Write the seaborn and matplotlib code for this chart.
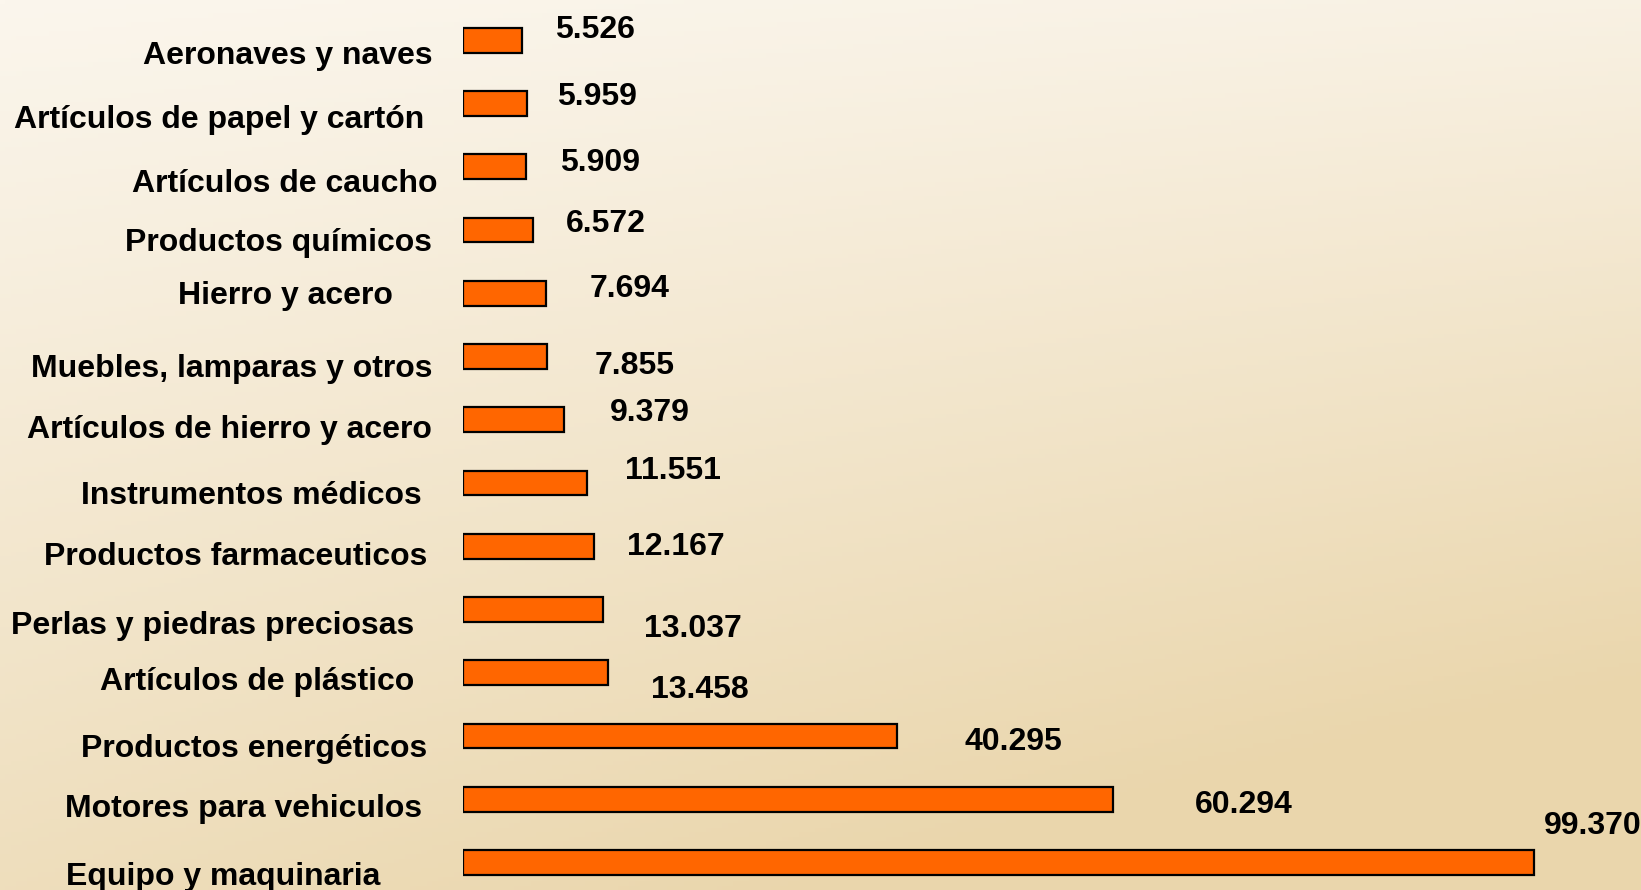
import numpy as np
import pandas as pd
import seaborn as sns
import matplotlib.pyplot as plt

# export value by product group (thousands, shown with "." separator)
categories = ['Aeronaves y naves', 'Artículos de papel y cartón', 'Artículos de caucho',
              'Productos químicos', 'Hierro y acero', 'Muebles, lamparas y otros',
              'Artículos de hierro y acero', 'Instrumentos médicos', 'Productos farmaceuticos',
              'Perlas y piedras preciosas', 'Artículos de plástico', 'Productos energéticos',
              'Motores para vehiculos', 'Equipo y maquinaria']
values = [5526, 5959, 5909, 6572, 7694, 7855, 9379, 11551, 12167, 13037, 13458, 40295, 60294, 99370]

# hand placement of the texts as on the original slide (pixels of the 1568 wide view)
label_dx = [-29, -37, -24, -29, -67, -29, -29, -39, -34, -46, -46, -34, -39, -79]
label_dy = [15, 16, 16, 12, 2.5, 12, 9.5, 12, 10.5, 16, 8.5, 12.5, 9, 13.5]
value_dx = [31, 29, 32, 31, 42, 45, 44, 36, 32, 39, 41, 64, 78, 9]
value_dy = [-10, -6, -4, -6, -4.5, 9, -6.5, -11, 0.5, 19, 16.5, 5.5, 6, -34.5]

k = 1641 / 1568

df = pd.DataFrame({'producto': categories, 'valor': values})

fig = plt.figure(figsize=(16.41, 8.90), dpi=100)

# beige gradient background
bg = fig.add_axes([0, 0, 1, 1])
yy, xx = np.mgrid[0:1:200j, 0:1:300j]
t = np.clip(0.75 * yy + 0.35 * xx * yy + 0.15 * xx, 0, 1)
top = np.array([251, 246, 237]) / 255
bot = np.array([234, 214, 172]) / 255
img = top[None, None, :] * (1 - t[..., None]) + bot[None, None, :] * t[..., None]
bg.imshow(img, aspect='auto', extent=[0, 1, 1, 0])
bg.axis('off')

ax = fig.add_axes([462.6 / 1641, 0, 1 - 462.6 / 1641, 1])
ax.patch.set_alpha(0)
sns.barplot(data=df, x='valor', y='producto', orient='h', color='#FF6600',
            saturation=1, edgecolor='black', linewidth=1.6, width=0.39, ax=ax)
ax.set_xlim(0, 109262)
ax.set_ylim(13.436, -0.637)
ax.axis('off')

font = dict(family='Liberation Sans', fontweight='bold', fontsize=23, color='black')
for i, (name, v) in enumerate(zip(categories, values)):
    ax.annotate(name, xy=(0, i), xytext=(label_dx[i] * k, -label_dy[i] * k),
                textcoords='offset pixels', ha='right', va='center', **font)
    txt = f'{v:,}'.replace(',', '.')
    ax.annotate(txt, xy=(v, i), xytext=(value_dx[i] * k, -value_dy[i] * k),
                textcoords='offset pixels', ha='left', va='center', **font)

fig.savefig('out.png', dpi=100)
